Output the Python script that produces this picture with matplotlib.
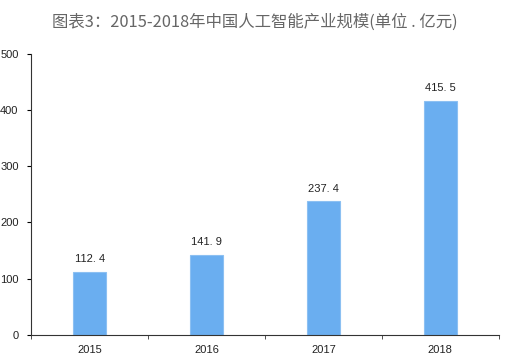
import numpy as np
import matplotlib.pyplot as plt

plt.rcParams['font.family'] = ['Noto Sans CJK SC', 'DejaVu Sans']

years = ['2015', '2016', '2017', '2018']
values = [112.4, 141.9, 237.4, 415.5]
labels = ['112. 4', '141. 9', '237. 4', '415. 5']

fig = plt.figure(figsize=(5.10, 3.64), dpi=100)
ax = fig.add_axes([0.061, 0.080, 0.917, 0.772])

x = np.arange(len(years))
ax.bar(x, values, width=0.28, color='#6aaef0', edgecolor='#8cc0f2', linewidth=0.8)
for xi, v, lab in zip(x, values, labels):
    ax.text(xi, v + 14, lab, ha='center', va='bottom', fontsize=8,
            family='Liberation Sans', color='#222222')

ax.set_xlim(-0.5, len(years) - 0.5)
ax.set_ylim(0, 500)
ax.set_yticks(range(0, 501, 100))
ax.set_xticks(x)
ax.set_xticklabels(years)
ax.set_xticks(np.arange(-0.5, len(years)), minor=True)
ax.tick_params(axis='x', which='major', length=0, pad=7)
ax.tick_params(axis='x', which='minor', length=3, direction='out', color='#333333')
ax.tick_params(axis='y', length=3, direction='out', pad=6)
for lab in ax.get_xticklabels() + ax.get_yticklabels():
    lab.set_fontsize(8)
    lab.set_family('Liberation Sans')
    lab.set_color('#222222')

ax.spines['top'].set_visible(False)
ax.spines['right'].set_visible(False)
ax.spines['left'].set_color('#333333')
ax.spines['bottom'].set_color('#333333')

fig.text(0.5, 0.938, '图表3：2015-2018年中国人工智能产业规模(单位 . 亿元)',
         ha='center', va='center', fontsize=11.8, color='#666666')

fig.savefig('out.png', dpi=100)
